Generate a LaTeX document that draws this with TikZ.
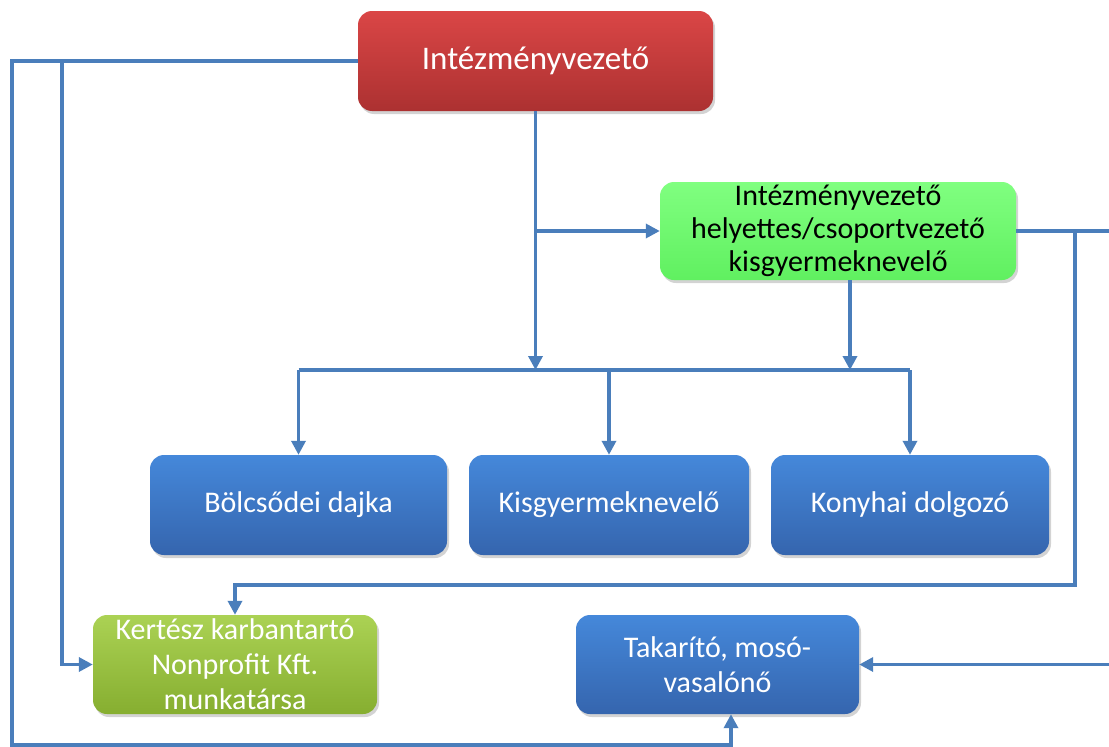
\documentclass[tikz,border=0pt]{standalone}
\usepackage{fontspec}
\setmainfont{Carlito}
\usetikzlibrary{arrows.meta,shadows,calc}
\definecolor{lineblue}{HTML}{4A7EBB}
\definecolor{redtop}{HTML}{DA4646}
\definecolor{redbot}{HTML}{AC3131}
\definecolor{grtop}{HTML}{80FF80}
\definecolor{grbot}{HTML}{60F060}
\definecolor{bltop}{HTML}{4588DA}
\definecolor{blbot}{HTML}{3565AE}
\definecolor{kgtop}{HTML}{ABD254}
\definecolor{kgbot}{HTML}{86AE30}
\tikzset{
  box/.style={rectangle, rounded corners=14pt, align=center, inner sep=0pt,
    drop shadow={opacity=0.35, shadow xshift=2pt, shadow yshift=-3pt},
    font=\fontsize{30}{35}\selectfont},
  redbox/.style={box, top color=redtop, bottom color=redbot, text=white, font=\fontsize{33}{38}\selectfont},
  greenbox/.style={box, top color=grtop, bottom color=grbot, text=black, font=\fontsize{30}{33}\selectfont},
  bluebox/.style={box, top color=bltop, bottom color=blbot, text=white},
  kertbox/.style={box, top color=kgtop, bottom color=kgbot, text=white},
  conn/.style={draw=lineblue, line width=3.4pt},
  arr/.style={-{Triangle[length=14pt,width=14pt]}}
}
\begin{document}
\begin{tikzpicture}[x=1pt,y=-1pt]
\useasboundingbox (0,0) rectangle (1109,747);
\clip (0,0) rectangle (1109,747);
\node[redbox, minimum width=355pt, minimum height=100pt] (red) at (535.5,61) {Intézményvezető};
\node[greenbox, minimum width=356pt, minimum height=98pt] (green) at (838,231) {Intézményvezető\\helyettes/csoportvezető\\kisgyermeknevelő};
\node[bluebox, minimum width=297pt, minimum height=100pt] (bol) at (298.5,505) {Bölcsődei dajka};
\node[bluebox, minimum width=280pt, minimum height=100pt] (kis) at (609,505) {Kisgyermeknevelő};
\node[bluebox, minimum width=278pt, minimum height=100pt] (kon) at (910,505) {Konyhai dolgozó};
\node[kertbox, minimum width=284pt, minimum height=99pt] (kert) at (235,664.5) {Kertész karbantartó\\Nonprofit Kft.\\munkatársa};
\node[bluebox, minimum width=283pt, minimum height=99pt] (tak) at (717.5,664.5) {Takarító, mosó-\\vasalónő};
% coordinates
\coordinate (L1) at (12,61);
\coordinate (L2) at (12,745);
\coordinate (T1) at (731,745);
\coordinate (L3) at (62,61);
\coordinate (bus) at (0,370);
\coordinate (gb) at (850,280);
\coordinate (R2) at (1075,585);
\coordinate (E) at (1120,0);
% connectors
\draw[conn,arr] (red.west) -- (L1) -- (L2) -- (T1) -- (tak.south -| T1);
\draw[conn,arr] (L3) -- (L3 |- kert.west) -- (kert.west);
\draw[conn,arr] (red.south) -- (red.south |- bus);
\draw[conn,arr] (red.south |- green.west) -- (green.west);
\draw[conn,arr] (gb) -- (gb |- bus);
\draw[conn] (bol.north |- bus) -- (kon.north |- bus);
\draw[conn,arr] (bol.north |- bus) -- (bol.north);
\draw[conn,arr] (kis.north |- bus) -- (kis.north);
\draw[conn,arr] (kon.north |- bus) -- (kon.north);
\draw[conn] (green.east) -- (green.east -| E);
\draw[conn,arr] (green.east -| R2) -- (R2) -- (R2 -| kert.north) -- (kert.north);
\draw[conn,arr] (E |- tak.east) -- (tak.east);
\end{tikzpicture}
\end{document}
